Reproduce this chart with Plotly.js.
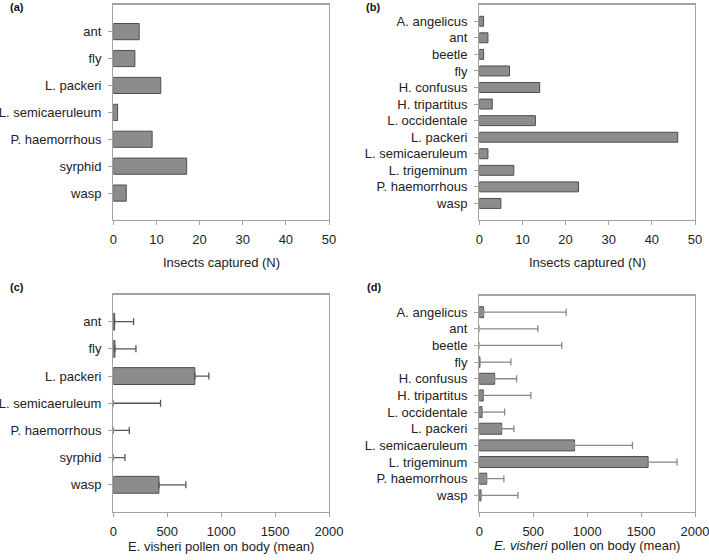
<!DOCTYPE html>
<html>
<head>
<meta charset="utf-8">
<script src="https://cdn.plot.ly/plotly-3.0.1.min.js"></script>
<style>html,body{margin:0;padding:0;background:#fff;}#chart{width:709px;height:560px;}</style>
</head>
<body>
<div id="chart"></div>
<script>
// Panel (a) / (c) categories
var catsAC = ['ant', 'fly', 'L. packeri', 'L. semicaeruleum', 'P. haemorrhous', 'syrphid', 'wasp'];
// Panel (b) / (d) categories
var catsBD = ['A. angelicus', 'ant', 'beetle', 'fly', 'H. confusus', 'H. tripartitus', 'L. occidentale',
              'L. packeri', 'L. semicaeruleum', 'L. trigeminum', 'P. haemorrhous', 'wasp'];

var capturedA = [6, 5, 11, 1, 9, 17, 3];
var capturedB = [1, 2, 1, 7, 14, 3, 13, 46, 2, 8, 23, 5];

var pollenC = [12, 15, 756, 0, 0, 0, 423];
var pollenCErr = [176, 195, 130, 438, 148, 108, 250];

var pollenD = [40, 0, 0, 5, 142, 37, 25, 207, 883, 1565, 68, 15];
var pollenDErr = [765, 543, 765, 288, 204, 441, 210, 114, 537, 268, 160, 343];

var xTicksN = [0, 10, 20, 30, 40, 50];
var xTicksP = [0, 500, 1000, 1500, 2000];

var barFill = '#8c8c8c';
var barLine = '#4d4d4d';

function zeros(n) { var a = []; for (var i = 0; i < n; i++) a.push(0); return a; }
function lineWidths(vals) { return vals.map(function (v) { return v > 0 ? 1 : 0; }); }

var traces = [
  {type: 'bar', orientation: 'h', x: capturedA, y: catsAC, xaxis: 'x', yaxis: 'y', width: 0.6,
   marker: {color: barFill, line: {color: barLine, width: 1}}, hoverinfo: 'skip'},
  {type: 'bar', orientation: 'h', x: capturedB, y: catsBD, xaxis: 'x2', yaxis: 'y2', width: 0.6,
   marker: {color: barFill, line: {color: barLine, width: 1}}, hoverinfo: 'skip'},
  {type: 'bar', orientation: 'h', x: pollenC, y: catsAC, xaxis: 'x3', yaxis: 'y3', width: 0.62,
   marker: {color: barFill, line: {color: barLine, width: lineWidths(pollenC)}}, hoverinfo: 'skip',
   error_x: {type: 'data', symmetric: false, array: pollenCErr, arrayminus: zeros(pollenC.length),
             color: '#555', thickness: 1.3, width: 3.5}},
  {type: 'bar', orientation: 'h', x: pollenD, y: catsBD, xaxis: 'x4', yaxis: 'y4', width: 0.66,
   marker: {color: barFill, line: {color: barLine, width: lineWidths(pollenD)}}, hoverinfo: 'skip',
   error_x: {type: 'data', symmetric: false, array: pollenDErr, arrayminus: zeros(pollenD.length),
             color: '#888', thickness: 1.3, width: 3.5}}
];

var tickFontX = {family: 'Liberation Sans, Arial, sans-serif', size: 13, color: '#222'};
var tickFontY = {family: 'Liberation Sans, Arial, sans-serif', size: 13, color: '#222'};

function xax(domain, range, ticks, anchor) {
  return {domain: domain, range: range, tickvals: ticks, ticktext: ticks.map(String), anchor: anchor,
          showline: true, mirror: true, linecolor: '#a3a3a3', linewidth: 1.3,
          ticks: 'outside', ticklen: 4, tickcolor: '#a3a3a3', tickwidth: 1,
          showgrid: false, zeroline: false, tickfont: tickFontX, fixedrange: true, ticklabelstandoff: 3,
          ticklabeloverflow: 'allow'};
}
function yax(domain, cats, anchor) {
  return {domain: domain, type: 'category', categoryorder: 'array', categoryarray: cats,
          range: [cats.length, -1], anchor: anchor, layer: 'above traces',
          showline: true, mirror: true, linecolor: '#a3a3a3', linewidth: 1.3,
          ticks: 'outside', ticklen: 4, tickcolor: '#a3a3a3', tickwidth: 1,
          showgrid: false, zeroline: false, tickfont: tickFontY, fixedrange: true, ticklabelstandoff: 4,
          ticklabeloverflow: 'allow'};
}

var W = 709, H = 560;
function px(a, b) { return [a / W, b / W]; }
function py(top, bottom) { return [1 - bottom / H, 1 - top / H]; }

var titleFont = {family: 'Liberation Sans, Arial, sans-serif', size: 13, color: '#222'};
var labelFont = {family: 'Liberation Sans, Arial, sans-serif', size: 11, color: '#111'};

function ann(text, x, y, font, anchor) {
  return {text: text, xref: 'paper', yref: 'paper', x: x / W, y: 1 - y / H,
          xanchor: anchor || 'center', yanchor: 'middle', showarrow: false, font: font};
}

var layout = {
  width: W, height: H,
  margin: {l: 0, r: 0, t: 0, b: 0},
  paper_bgcolor: '#fff', plot_bgcolor: '#fff',
  showlegend: false,
  bargap: 0.4,
  xaxis: xax(px(113.3, 329), [0, 50], xTicksN, 'y'),
  yaxis: yax(py(4.7, 220), catsAC, 'x'),
  xaxis2: xax(px(479.3, 695), [0, 50], xTicksN, 'y2'),
  yaxis2: yax(py(4.7, 220), catsBD, 'x2'),
  xaxis3: xax(px(113.3, 329), [0, 2000], xTicksP, 'y3'),
  yaxis3: yax(py(294.5, 512), catsAC, 'x3'),
  xaxis4: xax(px(479.3, 695), [0, 2000], xTicksP, 'y4'),
  yaxis4: yax(py(295.5, 512), catsBD, 'x4'),
  annotations: [
    ann('<b>(a)</b>', 8, 7, labelFont, 'left'),
    ann('<b>(b)</b>', 364, 7, labelFont, 'left'),
    ann('<b>(c)</b>', 8, 287, labelFont, 'left'),
    ann('<b>(d)</b>', 365, 287, labelFont, 'left'),
    ann('Insects captured (N)', 221, 262, titleFont),
    ann('Insects captured (N)', 587, 262, titleFont),
    ann('E. visheri pollen on body (mean)', 221, 546.5, titleFont),
    ann('<i>E. visheri</i> pollen on body (mean)', 587, 545.5, titleFont)
  ]
};

Plotly.newPlot('chart', traces, layout, {staticPlot: true, displayModeBar: false});
</script>
</body>
</html>
